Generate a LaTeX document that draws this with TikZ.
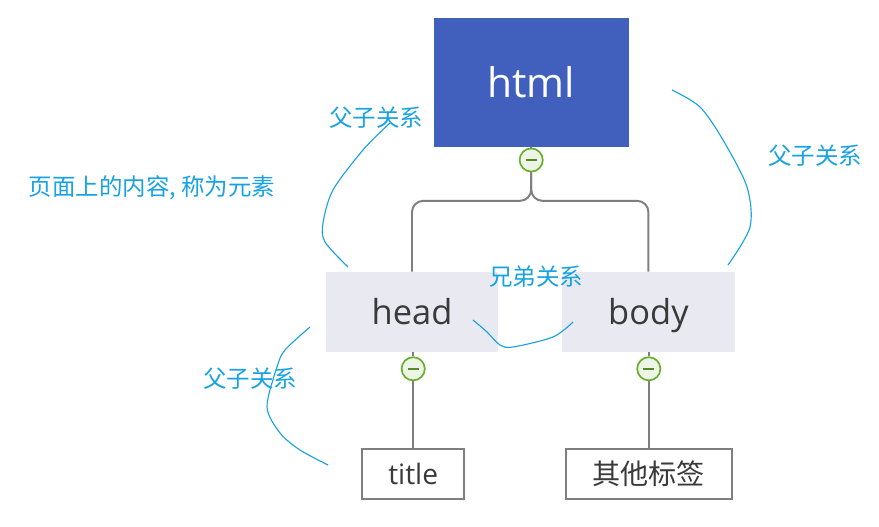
\documentclass[tikz,border=0pt]{standalone}
\usepackage{fontspec}
\setmainfont{Open Sans}
\newfontfamily\cjk{Noto Sans CJK SC}
\usepackage{xcolor}
\usepackage{tikz}
\usetikzlibrary{positioning,calc}
\definecolor{prim}{HTML}{4160BE}
\definecolor{pale}{HTML}{E8E9F1}
\definecolor{ink}{HTML}{3A3A3A}
\definecolor{wire}{HTML}{7F7F7F}
\definecolor{pen}{HTML}{17A2E3}
\definecolor{green}{HTML}{6AAE2E}

\begin{document}
\begin{tikzpicture}[
  htmlbox/.style={fill=prim,text=white,minimum width=4.88cm,minimum height=3.22cm,font=\fontsize{29}{31}\selectfont},
  tagbox/.style={fill=pale,text=ink,minimum width=4.28cm,minimum height=2.0cm,text height=18pt,text depth=0.5pt,
    font=\fontsize{24.5}{27}\selectfont},
  leaf/.style={draw=wire,line width=1.2pt,fill=white,text=ink,minimum height=1.25cm,font=\fontsize{20}{22}\selectfont},
  minus/.style={circle,draw=green,line width=1.2pt,fill=green!12,minimum size=0.58cm,inner sep=0pt,
    path picture={\draw[green!80!black,line width=1.4pt]
      ([xshift=-4pt]path picture bounding box.center) -- ([xshift=4pt]path picture bounding box.center);}},
  conn/.style={wire,line width=1.4pt},
  note/.style={text=pen,font=\cjk\fontsize{16.7}{18}\selectfont},
  hand/.style={pen,line width=0.8pt}]
\useasboundingbox (0,0) rectangle (21.975,-13.175);
% tree
\node[htmlbox] (html) at (13.28,-2.06) {html};
\node[minus] (m1) at (13.28,-4.0) {};
\node[tagbox] (head) at (10.3,-7.8) {head};
\node[tagbox,minimum width=4.33cm] (body) at (16.21,-7.8) {body};
\node[minus] (m2) at (10.33,-9.22) {};
\node[minus] (m3) at (16.22,-9.22) {};
\node[leaf,minimum width=2.55cm] (title) at (10.33,-11.85) {title};
\node[leaf,minimum width=4.15cm,font=\cjk\fontsize{20}{22}\selectfont] (other) at (16.22,-11.85) {其他标签};
\draw[conn] (html.south) -- (m1.north);
\foreach \t in {head,body} \draw[conn,rounded corners=8pt] (m1.south) -- ++(0,-0.71) -| (\t.north);
\foreach \a/\m/\b in {head/m2/title,body/m3/other} {
  \draw[conn] (\a.south-|\m) -- (\m.north);
  \draw[conn] (\m.south) -- (\b.north-|\m);
}
% notes
\node[note] (n1) at (9.4,-2.95) {父子关系};
\node[note] (n2) at (3.8,-4.7) {页面上的内容, 称为元素};
\node[note] (n3) at (20.375,-3.9) {父子关系};
\node[note] (n4) at (13.4,-6.925) {兄弟关系};
\node[note] (n5) at (6.25,-9.475) {父子关系};
% pen strokes
\draw[hand] plot[smooth] coordinates {(9.75,-3.075) (9.075,-3.75) (8.325,-4.75) (8.075,-5.575) (8.125,-6.05) (8.7,-6.675)};
\draw[hand] plot[smooth] coordinates {(16.8,-2.25) (17.5,-2.675) (18.075,-3.5) (18.675,-4.675) (18.75,-5.675) (18.2,-6.625)};
\draw[hand] plot[smooth] coordinates {(7.75,-8.175) (7.125,-8.75) (6.925,-9.175) (6.675,-10.175) (7.0,-10.825) (7.5,-11.25) (8.2,-11.625)};
\draw[hand] plot[smooth] coordinates {(11.825,-8.0) (12.175,-8.3) (12.5,-8.625) (12.825,-8.675) (13.825,-8.425) (14.325,-8.05)};
\end{tikzpicture}
\end{document}
